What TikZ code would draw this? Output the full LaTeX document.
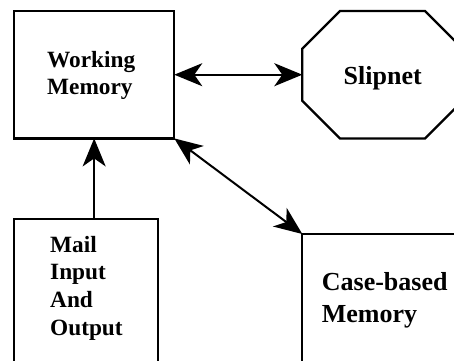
\documentclass[tikz,border=0pt]{standalone}
\usepackage{fontspec}
\setmainfont{Liberation Serif}
\usetikzlibrary{arrows.meta,calc}
\begin{document}
\begin{tikzpicture}[x=1pt,y=-1pt,
  >={Stealth[length=28pt, width=23pt, inset=8pt]},
  frame/.style={draw, line width=2.3pt, inner sep=0pt, outer sep=0pt},
  shell/.style={draw=none, inner sep=0pt, outer sep=0pt},
  edge/.style={line width=2.3pt, line join=miter},
  link/.style={line width=2pt},
  small/.style={font=\fontsize{23.3}{27.7}\selectfont\bfseries, inner sep=0pt, anchor=base west},
  large/.style={font=\fontsize{26}{31.5}\selectfont\bfseries, inner sep=0pt, anchor=base west}]
\useasboundingbox (0,0) rectangle (454,360);
\clip (0,0) rectangle (454,360);

% boxes
\node[frame, minimum width=160.3pt, minimum height=127.4pt] (wm) at (94.15,74.7) {};
\node[frame, minimum width=144.3pt, minimum height=160pt] (mail) at (86.15,299) {};
\node[frame, minimum width=160.4pt, minimum height=160pt] (case) at (382.5,314) {};

% octagon for the slipnet
\node[shell, minimum width=160.4pt, minimum height=127.4pt] (slip) at (382.5,74.7) {};
\draw[edge] ($(slip.north west)+(37.7,0)$) -- ($(slip.north east)+(-37.7,0)$)
  -- ($(slip.north east)+(0,37.7)$) -- ($(slip.south east)+(0,-37.7)$)
  -- ($(slip.south east)+(-37.7,0)$) -- ($(slip.south west)+(37.7,0)$)
  -- ($(slip.south west)+(0,-37.7)$) -- ($(slip.north west)+(0,37.7)$) -- cycle;

% labels
\node[small] (wmtext) at (47,67) {\begin{tabular}[t]{@{}l@{}}Working\\Memory\end{tabular}};
\node[large] (sliptext) at (343.5,84) {Slipnet};
\node[small] (mailtext) at (50,252) {\begin{tabular}[t]{@{}l@{}}Mail\\Input\\And\\Output\end{tabular}};
\node[large] (casetext) at (321.7,290.5) {\begin{tabular}[t]{@{}l@{}}Case-based\\Memory\end{tabular}};

% connectors
\draw[link, <->] (wm.east) -- (slip.west);
\draw[link, ->] (wm.south |- mail.north) -- (wm.south);
\draw[link, <->] (wm.south east) -- (case.north west);
\end{tikzpicture}
\end{document}
